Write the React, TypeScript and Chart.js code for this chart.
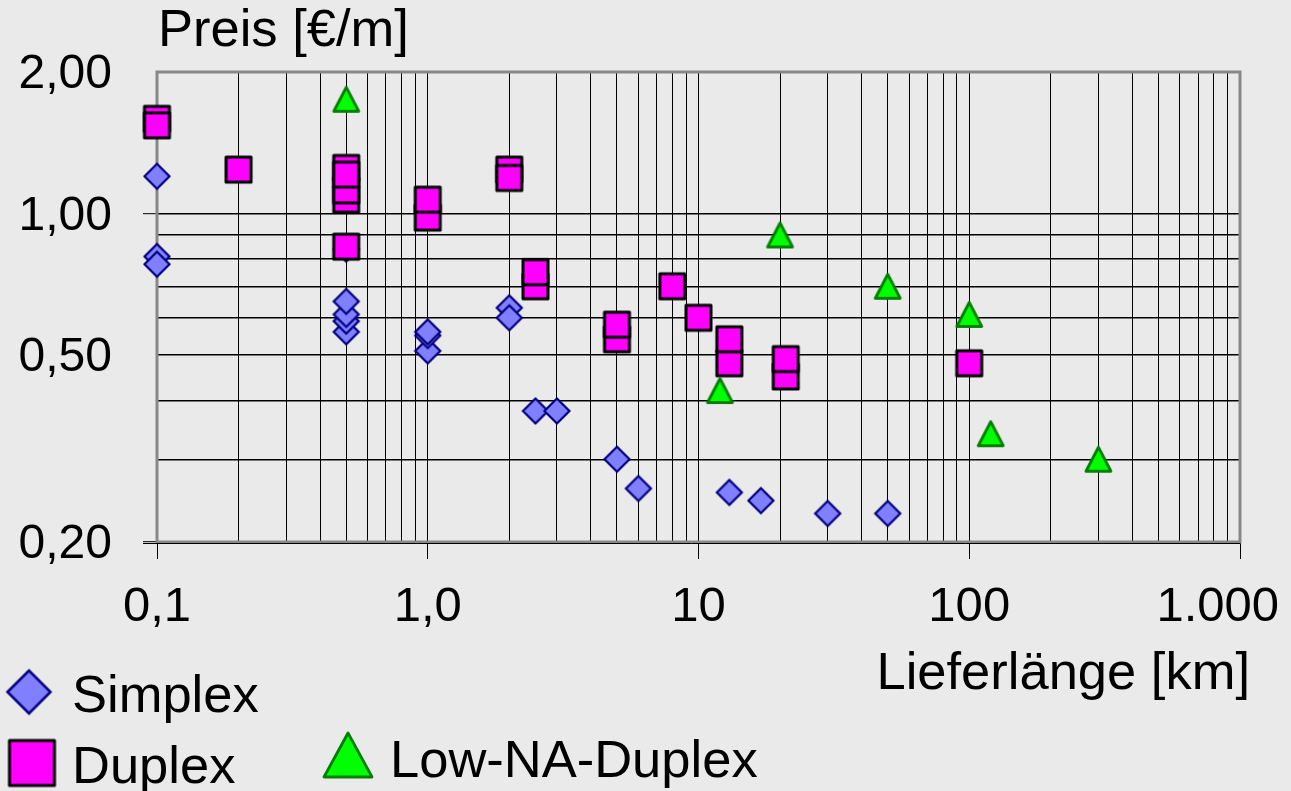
import React, { useEffect, useRef } from 'react';
import { Chart, registerables } from 'chart.js';

Chart.register(...registerables);

// ---- Data: delivery length (km) and price (€/m) per cable type ----
const simplexKm = [0.1, 0.1, 0.1, 0.5, 0.5, 0.5, 0.5, 0.5, 1, 1, 1, 2, 2, 2.5, 3, 5, 6, 13, 17, 30, 50];
const simplexPrice = [1.2, 0.81, 0.78, 0.84, 0.56, 0.59, 0.61, 0.65, 0.51, 0.55, 0.56, 0.63, 0.6, 0.38, 0.38, 0.3, 0.26, 0.255, 0.245, 0.23, 0.23];

const duplexKm = [0.1, 0.1, 0.2, 0.5, 0.5, 0.5, 0.5, 0.5, 1, 1, 2, 2, 2.5, 2.5, 5, 5, 8, 10, 13, 13, 21, 21, 100];
const duplexPrice = [1.59, 1.54, 1.24, 1.07, 1.12, 1.25, 1.21, 0.85, 0.98, 1.07, 1.24, 1.19, 0.7, 0.75, 0.54, 0.58, 0.7, 0.6, 0.48, 0.54, 0.45, 0.49, 0.48];

const lowNaKm = [0.5, 12, 20, 50, 100, 120, 300];
const lowNaPrice = [1.75, 0.42, 0.9, 0.7, 0.61, 0.34, 0.3];

// ---- Axis ticks and labels ----
const xDecades = [0.1, 1, 10, 100];
const xMultipliers = [1, 2, 3, 4, 5, 6, 7, 8, 9];
const xMax = 1000;
const xLabelValues = [0.1, 1, 10, 100, 1000];
const xLabelTexts = ['0,1', '1,0', '10', '100', '1.000'];

const yGridValues = [0.2, 0.3, 0.4, 0.5, 0.6, 0.7, 0.8, 0.9, 1, 2];
const yLabelValues = [0.2, 0.5, 1, 2];
const yLabelTexts = ['0,20', '0,50', '1,00', '2,00'];
const yTickMarkValues = [0.2, 1];

const seriesNames = ['Simplex', 'Duplex', 'Low-NA-Duplex'];
const yTitle = 'Preis [€/m]';
const xTitle = 'Lieferlänge [km]';

const FONT = '"Liberation Sans", Arial, Helvetica, sans-serif';
const BG = '#eaeaea';
const TRANSPARENT = 'rgba(0,0,0,0)';

const near = (a: number, b: number) => Math.abs(Math.log10(a) - Math.log10(b)) < 1e-6;
const inList = (v: number, list: number[]) => list.some((t) => near(v, t));
const zip = (xs: number[], ys: number[]) => xs.map((x, i) => ({ x, y: ys[i] }));

const xGridValues: number[] = [];
xDecades.forEach((d) => xMultipliers.forEach((m) => xGridValues.push(+(d * m).toPrecision(6))));
xGridValues.push(xMax);

// ---- Marker sprites ----
function sprite(size: number, draw: (ctx: CanvasRenderingContext2D, c: number) => void) {
  const cv = document.createElement('canvas');
  cv.width = size;
  cv.height = size;
  const ctx = cv.getContext('2d')!;
  draw(ctx, size / 2);
  return cv;
}

function diamond(r: number, lw: number) {
  return sprite(Math.ceil(2 * r + 3 * lw) + 2, (ctx, c) => {
    ctx.beginPath();
    ctx.moveTo(c - r, c);
    ctx.lineTo(c, c - r);
    ctx.lineTo(c + r, c);
    ctx.lineTo(c, c + r);
    ctx.closePath();
    ctx.fillStyle = '#8080ff';
    ctx.fill();
    ctx.lineWidth = lw;
    ctx.strokeStyle = '#000080';
    ctx.stroke();
  });
}

function square(side: number, lw: number) {
  return sprite(Math.ceil(side + 2 * lw) + 2, (ctx, c) => {
    ctx.beginPath();
    ctx.rect(c - side / 2, c - side / 2, side, side);
    ctx.fillStyle = '#ff00ff';
    ctx.fill();
    ctx.lineWidth = lw;
    ctx.lineJoin = 'round';
    ctx.strokeStyle = '#000000';
    ctx.stroke();
  });
}

function triangle(w: number, h: number, lw: number) {
  return sprite(Math.ceil(Math.max(w, h) + 2 * lw) + 2, (ctx, c) => {
    ctx.beginPath();
    ctx.moveTo(c, c - h / 2);
    ctx.lineTo(c + w / 2, c + h / 2);
    ctx.lineTo(c - w / 2, c + h / 2);
    ctx.closePath();
    ctx.fillStyle = '#00ff00';
    ctx.fill();
    ctx.lineWidth = lw;
    ctx.lineJoin = 'round';
    ctx.strokeStyle = '#008000';
    ctx.stroke();
  });
}

export default function App() {
  const canvasRef = useRef<HTMLCanvasElement | null>(null);

  useEffect(() => {
    const canvas = canvasRef.current;
    if (!canvas) return;

    const markers = [diamond(12.5, 2.2), square(25, 3), triangle(25, 24, 2.8)];
    const legendMarkers = [diamond(21.5, 2.5), square(45, 3), triangle(48, 44, 2.8)];

    const decor = {
      id: 'decor',
      beforeDraw(chart: any) {
        const { ctx, width, height } = chart;
        ctx.save();
        ctx.fillStyle = BG;
        ctx.fillRect(0, 0, width, height);
        ctx.restore();
      },
      beforeDatasetsDraw(chart: any) {
        const { ctx, chartArea: a } = chart;
        ctx.save();
        ctx.strokeStyle = '#888888';
        ctx.lineWidth = 3;
        ctx.strokeRect(a.left, a.top, a.right - a.left, a.bottom - a.top);
        ctx.strokeStyle = '#000';
        ctx.lineWidth = 1;
        ctx.beginPath();
        ctx.moveTo(a.left - 14, a.bottom + 1.5);
        ctx.lineTo(a.right, a.bottom + 1.5);
        ctx.stroke();
        ctx.restore();
      },
      afterDraw(chart: any) {
        const { ctx, chartArea: a, width } = chart;
        const xs = chart.scales.x;
        ctx.save();
        ctx.fillStyle = '#000';
        ctx.textBaseline = 'alphabetic';

        // x tick labels, kept inside the canvas at the right end
        ctx.font = `49px ${FONT}`;
        ctx.textAlign = 'left';
        xLabelValues.forEach((v, i) => {
          const t = xLabelTexts[i];
          const w = ctx.measureText(t).width;
          let left = xs.getPixelForValue(v) - w / 2;
          if (left + w > width - 12) left = width - 12 - w;
          ctx.fillText(t, left, 621);
        });

        // axis titles
        ctx.font = `52.5px ${FONT}`;
        ctx.textAlign = 'left';
        ctx.fillText(yTitle, a.left + 1, a.top - 26);
        ctx.textAlign = 'right';
        ctx.fillText(xTitle, a.right + 10, 689);

        // legend
        const items = [
          { m: 0, mx: 29, my: 692, tx: 72, ty: 712 },
          { m: 1, mx: 32, my: 763, tx: 72, ty: 783 },
          { m: 2, mx: 348, my: 755, tx: 390, ty: 777 },
        ];
        ctx.textAlign = 'left';
        items.forEach((it) => {
          const img = legendMarkers[it.m];
          ctx.drawImage(img, it.mx - img.width / 2, it.my - img.height / 2);
          ctx.fillText(seriesNames[it.m], it.tx, it.ty);
        });
        ctx.restore();
      },
    };

    const chart = new Chart(canvas, {
      type: 'scatter',
      data: {
        datasets: [
          {
            label: seriesNames[0],
            data: zip(simplexKm, simplexPrice),
            pointStyle: markers[0] as any,
            pointRadius: 14,
            order: 3,
            clip: false as any,
          },
          {
            label: seriesNames[1],
            data: zip(duplexKm, duplexPrice),
            pointStyle: markers[1] as any,
            pointRadius: 14,
            order: 2,
            clip: false as any,
          },
          {
            label: seriesNames[2],
            data: zip(lowNaKm, lowNaPrice),
            pointStyle: markers[2] as any,
            pointRadius: 14,
            order: 1,
            clip: false as any,
          },
        ],
      },
      options: {
        animation: false,
        responsive: false,
        devicePixelRatio: 1,
        events: [],
        layout: { padding: { top: 72, right: 51, left: 0, bottom: 0 } },
        plugins: { legend: { display: false }, tooltip: { enabled: false }, title: { display: false } },
        scales: {
          x: {
            type: 'logarithmic',
            position: 'bottom',
            min: 0.1,
            max: 1000,
            afterBuildTicks: (s: any) => {
              s.ticks = xGridValues.map((v) => ({ value: v }));
            },
            afterFit: (s: any) => {
              s.height = 249;
            },
            ticks: { display: false },
            grid: {
              color: (c: any) => (c.tick && (near(c.tick.value, 0.1) || near(c.tick.value, 1000)) ? TRANSPARENT : '#000'),
              lineWidth: 1,
              tickLength: 17,
              tickWidth: 1,
              tickColor: (c: any) => (c.tick && inList(c.tick.value, xLabelValues) ? '#000' : TRANSPARENT),
            },
            border: { display: false },
          },
          y: {
            type: 'logarithmic',
            position: 'left',
            min: 0.2,
            max: 2,
            afterBuildTicks: (s: any) => {
              s.ticks = yGridValues.map((v) => ({ value: v }));
            },
            afterFit: (s: any) => {
              s.width = 157;
            },
            ticks: {
              autoSkip: false,
              color: '#000',
              padding: 31,
              labelOffset: 3,
              font: { family: FONT, size: 48 },
              callback: (v: any) => {
                const i = yLabelValues.findIndex((t) => near(Number(v), t));
                return i >= 0 ? yLabelTexts[i] : '';
              },
            },
            grid: {
              color: (c: any) => (c.tick && (near(c.tick.value, 0.2) || near(c.tick.value, 2)) ? TRANSPARENT : '#000'),
              lineWidth: 1.4,
              tickLength: 14,
              tickWidth: 1,
              tickColor: (c: any) => (c.tick && inList(c.tick.value, yTickMarkValues) ? '#000' : TRANSPARENT),
            },
            border: { display: false },
          },
        },
      },
      plugins: [decor],
    } as any);

    return () => chart.destroy();
  }, []);

  return (
    <div style={{ position: 'fixed', left: 0, top: 0, width: 1291, height: 791, background: BG }}>
      <canvas ref={canvasRef} width={1291} height={791} style={{ display: 'block', width: 1291, height: 791 }} />
    </div>
  );
}
